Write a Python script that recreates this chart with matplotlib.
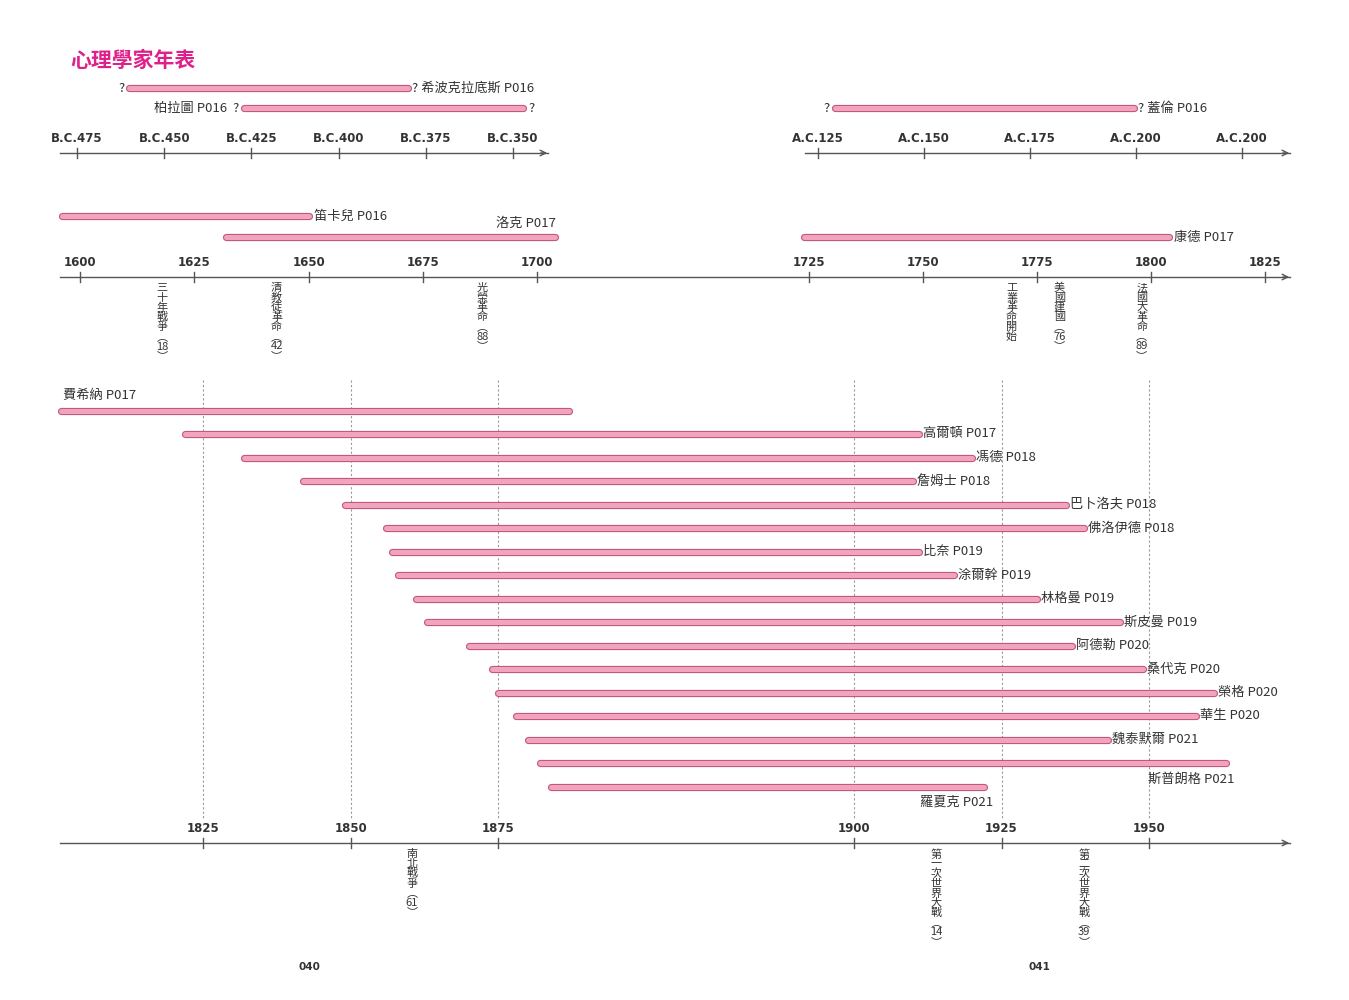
import numpy as np
import matplotlib.pyplot as plt

plt.rcParams['font.family'] = ['Noto Sans CJK TC', 'DejaVu Sans']

# ---- data ----
title = "心理學家年表"

bc_ticks = [-475, -450, -425, -400, -375, -350]
bc_labels = ["B.C.475", "B.C.450", "B.C.425", "B.C.400", "B.C.375", "B.C.350"]
bc_names = ["希波克拉底斯 P016", "柏拉圖 P016"]
bc_start = [-460, -427]
bc_end = [-380, -347]

ad_ticks = [125, 150, 175, 200, 225]
ad_labels = ["A.C.125", "A.C.150", "A.C.175", "A.C.200", "A.C.200"]
ad_names = ["蓋倫 P016"]
ad_start = [129]
ad_end = [199.5]

mid_ticks = [1600, 1625, 1650, 1675, 1700, 1725, 1750, 1775, 1800, 1825]
mid_names = ["笛卡兒 P016", "洛克 P017", "康德 P017"]
mid_start = [1596, 1632, 1724]
mid_end = [1650, 1704, 1804]
mid_events = ["三十年戰爭︵18︶", "清教徒革命︵42︶", "光榮革命︵88︶",
              "工業革命開始", "美國建國︵76︶", "法國大革命︵89︶"]
mid_event_pos = [1618, 1643, 1688, 1769.5, 1780, 1798]

low_ticks = [1825, 1850, 1875, 1900, 1925, 1950]
low_names = ["費希納 P017", "高爾頓 P017", "馮德 P018", "詹姆士 P018", "巴卜洛夫 P018",
             "佛洛伊德 P018", "比奈 P019", "涂爾幹 P019", "林格曼 P019", "斯皮曼 P019",
             "阿德勒 P020", "桑代克 P020", "榮格 P020", "華生 P020", "魏泰默爾 P021",
             "斯普朗格 P021", "羅夏克 P021"]
low_start = [1801, 1822, 1832, 1842, 1849, 1856, 1857, 1858, 1861, 1863,
             1870, 1874, 1875, 1878, 1880, 1882, 1884]
low_end = [1887, 1911, 1920, 1910, 1936, 1939, 1911, 1917, 1931, 1945,
           1937, 1949, 1961, 1958, 1943, 1963, 1922]
low_events = ["南北戰爭︵61︶", "第一次世界大戰︵14︶", "第二次世界大戰︵39︶"]
low_event_pos = [1860.4, 1913.9, 1939]

W, H = 1349, 1000
fig = plt.figure(figsize=(W / 100, H / 100), dpi=100)
fig.patch.set_facecolor('white')

PINK = '#f2a3be'
EDGE = '#c2577f'
AX = '#555555'


def make_axes(anchors):
    yrs = np.array([a[0] for a in anchors], float)
    px = np.array([a[1] for a in anchors], float)
    s0 = (px[1] - px[0]) / (yrs[1] - yrs[0])
    s1 = (px[-1] - px[-2]) / (yrs[-1] - yrs[-2])
    yrs = np.concatenate([[yrs[0] - (px[0] + 100) / s0], yrs, [yrs[-1] + (W + 100 - px[-1]) / s1]])
    px = np.concatenate([[-100], px, [W + 100]])
    fwd = lambda v: np.interp(v, yrs, px)
    inv = lambda v: np.interp(v, px, yrs)
    ax = fig.add_axes([0, 0, 1, 1], facecolor='none')
    ax.set_xscale('function', functions=(fwd, inv))
    ax.set_xlim(inv(0), inv(W))
    ax.set_ylim(H, 0)
    ax.axis('off')
    return ax, fwd, inv


def axis_line(ax, inv, y, x0, x1, ticks, labels):
    ax.plot([inv(x0), inv(x1)], [y, y], color=AX, lw=1)
    ax.annotate('', xy=(inv(x1 + 2), y), xytext=(inv(x1 - 10), y),
                arrowprops=dict(arrowstyle='->', color=AX, lw=1))
    for t, l in zip(ticks, labels):
        ax.plot([t, t], [y - 5, y + 5], color=AX, lw=1)
        ax.text(t, y - 15, l, ha='center', va='center', fontsize=8.5,
                fontweight='bold', color='#333333', family=['DejaVu Sans'])


def bar(ax, s, e, y):
    ax.plot([s, e], [y, y], color=EDGE, lw=5.2, solid_capstyle='round')
    ax.plot([s, e], [y, y], color=PINK, lw=3.6, solid_capstyle='round')


def label(ax, x, y, s, ha='left', dx=3, inv=None, fwd=None):
    ax.text(inv(fwd(x) + dx), y, s, ha=ha, va='center', fontsize=9.5, color='#333333')


def vtext(ax, x, y, s):
    parts = []
    i = 0
    while i < len(s):
        if s[i].isdigit():
            j = i
            while j < len(s) and s[j].isdigit():
                j += 1
            parts.append(s[i:j])
            i = j
        else:
            parts.append(s[i])
            i += 1
    ax.text(x, y, '\n'.join(parts), ha='center', va='top', fontsize=8,
            linespacing=0.95, color='#333333')


fig.text(70 / W, 1 - 60 / H, title, fontsize=15, fontweight='bold', color='#e0208a', va='center')

# ---- B.C. panel ----
ax, f, iv = make_axes([(-475, 77), (-350, 513)])
axis_line(ax, iv, 153, 60, 548, bc_ticks, bc_labels)
rows = [88, 108]
for k in range(2):
    bar(ax, bc_start[k], bc_end[k], rows[k])
label(ax, bc_start[0], rows[0], "?", ha='right', dx=-5, inv=iv, fwd=f)
label(ax, bc_end[0], rows[0], "? " + bc_names[0], dx=4, inv=iv, fwd=f)
label(ax, bc_start[1], rows[1], bc_names[1] + "  ?", ha='right', dx=-5, inv=iv, fwd=f)
label(ax, bc_end[1], rows[1], "?", dx=5, inv=iv, fwd=f)

# ---- A.D. panel ----
ax, f, iv = make_axes([(125, 818), (200, 1136)])
axis_line(ax, iv, 153, 805, 1290, ad_ticks, ad_labels)
bar(ax, ad_start[0], ad_end[0], 108)
label(ax, ad_start[0], 108, "?", ha='right', dx=-5, inv=iv, fwd=f)
label(ax, ad_end[0], 108, "? " + ad_names[0], dx=4, inv=iv, fwd=f)

# ---- 1600-1825 panel ----
ax, f, iv = make_axes([(1600, 80), (1705, 560), (1724, 804), (1825, 1265)])
axis_line(ax, iv, 277, 60, 1290, mid_ticks, [str(t) for t in mid_ticks])
mrows = [216, 237, 237]
for k in range(3):
    bar(ax, mid_start[k], mid_end[k], mrows[k])
label(ax, mid_end[0], mrows[0], mid_names[0], dx=5, inv=iv, fwd=f)
ax.text(mid_end[1], 223, mid_names[1], ha='right', va='center', fontsize=9.5, color='#333333')
label(ax, mid_end[2], mrows[2], mid_names[2], dx=5, inv=iv, fwd=f)
for s, p in zip(mid_events, mid_event_pos):
    vtext(ax, p, 283, s)

# ---- 1800-1960 panel ----
ax, f, iv = make_axes([(1825, 203), (1888, 575), (1900, 854), (1950, 1149)])
axis_line(ax, iv, 843, 60, 1290, low_ticks, [str(t) for t in low_ticks])
for t in low_ticks:
    ax.plot([t, t], [380, 818], color='#999999', lw=0.8, ls=(0, (2, 2)))
lrows = [411] + [434 + 23.5 * i for i in range(16)]
for k in range(len(low_names)):
    bar(ax, low_start[k], low_end[k], lrows[k])
    if k == 0:
        ax.text(iv(63), 396, low_names[k], ha='left', va='center', fontsize=9.5, color='#333333')
    elif low_names[k].startswith("斯普朗格"):
        ax.text(iv(1148), lrows[k] + 16, low_names[k], ha='left', va='center', fontsize=9.5, color='#333333')
    elif low_names[k].startswith("羅夏克"):
        ax.text(iv(920), lrows[k] + 16, low_names[k], ha='left', va='center', fontsize=9.5, color='#333333')
    else:
        label(ax, low_end[k], lrows[k], low_names[k], dx=4, inv=iv, fwd=f)
for s, p in zip(low_events, low_event_pos):
    vtext(ax, p, 849, s)

fig.text(309 / W, 1 - 967 / H, "040", fontsize=7.5, fontweight='bold', color='#333333', ha='center', va='center', family=['DejaVu Sans'])
fig.text(1039 / W, 1 - 967 / H, "041", fontsize=7.5, fontweight='bold', color='#333333', ha='center', va='center', family=['DejaVu Sans'])

fig.savefig('out.png', dpi=100, facecolor='white')
